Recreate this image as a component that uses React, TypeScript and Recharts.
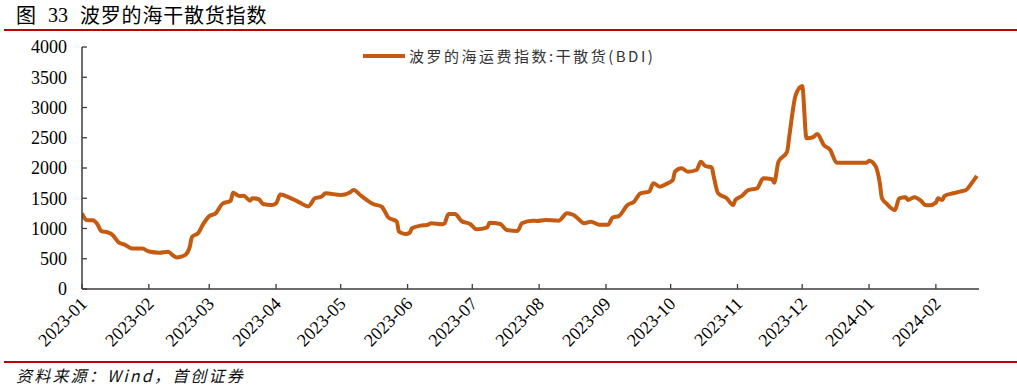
import React from "react";
import { LineChart, Line, XAxis, YAxis } from "recharts";

// BDI daily-ish readings
const dates = [
  "2023-01-01", "2023-01-02", "2023-01-03", "2023-01-06", "2023-01-08", "2023-01-10", "2023-01-13", "2023-01-15",
  "2023-01-18", "2023-01-21", "2023-01-24", "2023-01-29", "2023-02-01", "2023-02-06", "2023-02-10", "2023-02-12",
  "2023-02-14", "2023-02-16", "2023-02-18", "2023-02-20", "2023-02-21", "2023-02-24", "2023-02-26", "2023-03-01",
  "2023-03-04", "2023-03-07", "2023-03-11", "2023-03-12", "2023-03-15", "2023-03-17", "2023-03-20", "2023-03-21",
  "2023-03-24", "2023-03-26", "2023-03-30", "2023-04-01", "2023-04-03", "2023-04-07", "2023-04-12", "2023-04-16",
  "2023-04-19", "2023-04-22", "2023-04-24", "2023-05-01", "2023-05-05", "2023-05-07", "2023-05-10", "2023-05-12",
  "2023-05-16", "2023-05-20", "2023-05-23", "2023-05-27", "2023-05-28", "2023-05-31", "2023-06-02", "2023-06-03",
  "2023-06-07", "2023-06-10", "2023-06-12", "2023-06-17", "2023-06-18", "2023-06-20", "2023-06-23", "2023-06-26",
  "2023-06-30", "2023-07-03", "2023-07-08", "2023-07-09", "2023-07-14", "2023-07-17", "2023-07-22", "2023-07-24",
  "2023-07-29", "2023-07-31", "2023-08-04", "2023-08-10", "2023-08-14", "2023-08-17", "2023-08-22", "2023-08-25",
  "2023-08-29", "2023-09-02", "2023-09-04", "2023-09-07", "2023-09-11", "2023-09-14", "2023-09-17", "2023-09-21",
  "2023-09-23", "2023-09-26", "2023-09-29", "2023-10-02", "2023-10-03", "2023-10-06", "2023-10-09", "2023-10-13",
  "2023-10-15", "2023-10-17", "2023-10-20", "2023-10-21", "2023-10-23", "2023-10-27", "2023-10-30", "2023-10-31",
  "2023-11-03", "2023-11-06", "2023-11-10", "2023-11-13", "2023-11-17", "2023-11-18", "2023-11-20", "2023-11-24",
  "2023-11-25", "2023-11-28", "2023-12-01", "2023-12-03", "2023-12-06", "2023-12-08", "2023-12-11", "2023-12-14",
  "2023-12-17", "2023-12-31", "2024-01-01", "2024-01-04", "2024-01-06", "2024-01-07", "2024-01-09", "2024-01-13",
  "2024-01-15", "2024-01-18", "2024-01-19", "2024-01-22", "2024-01-25", "2024-01-27", "2024-01-29", "2024-02-01",
  "2024-02-02", "2024-02-04", "2024-02-05", "2024-02-09", "2024-02-12", "2024-02-15", "2024-02-17", "2024-02-20",
];

const bdi = [
  1250, 1180, 1140, 1135, 1080, 955, 935, 900,
  770, 730, 670, 668, 620, 600, 617, 560,
  520, 535, 565, 700, 860, 930, 1060, 1205,
  1250, 1405, 1460, 1592, 1537, 1540, 1460, 1499,
  1483, 1405, 1389, 1416, 1560, 1516, 1427, 1365,
  1499, 1526, 1582, 1554, 1592, 1636, 1554, 1499,
  1405, 1360, 1185, 1113, 947, 909, 931, 1003,
  1047, 1058, 1086, 1069, 1080, 1240, 1240, 1124,
  1074, 987, 1020, 1096, 1074, 975, 959, 1086,
  1129, 1124, 1140, 1129, 1251, 1223, 1086, 1113,
  1063, 1063, 1179, 1207, 1389, 1443, 1582, 1609,
  1747, 1691, 1736, 1802, 1939, 1995, 1939, 1967,
  2104, 2033, 2011, 1856, 1582, 1499, 1389, 1471,
  1537, 1636, 1664, 1830, 1813, 1757, 2104, 2270,
  2518, 3207, 3356, 2491, 2508, 2562, 2380, 2298,
  2088, 2088, 2121, 2033, 1750, 1499, 1416, 1306,
  1499, 1516, 1471, 1516, 1460, 1389, 1383, 1427,
  1499, 1471, 1537, 1582, 1609, 1636, 1719, 1868,
];

const monthTicks = [
  "2023-01", "2023-02", "2023-03", "2023-04", "2023-05", "2023-06", "2023-07",
  "2023-08", "2023-09", "2023-10", "2023-11", "2023-12", "2024-01", "2024-02",
];
const yTicks = [0, 500, 1000, 1500, 2000, 2500, 3000, 3500, 4000];
const seriesName = "波罗的海运费指数:干散货(BDI)";

const toTime = (s: string) => {
  const [y, m, d] = s.split("-").map(Number);
  return Date.UTC(y, m - 1, d || 1);
};

const data = dates.map((d, i) => ({ t: toTime(d), v: bdi[i] }));
const xStart = toTime("2023-01-01");
const xEnd = toTime("2024-02-21");

const LINE = "#C55A11";
const AXIS = "#3c3c3c";
const RED = "#C00000";
const SERIF = "'Liberation Serif', 'Times New Roman', serif";
const CJK = "'Noto Sans CJK SC', sans-serif";

const fmtMonth = (v: number) => {
  const dt = new Date(v);
  return `${dt.getUTCFullYear()}-${String(dt.getUTCMonth() + 1).padStart(2, "0")}`;
};

function XTick(props: any) {
  const { x, y, payload } = props;
  const lx = x + 6;
  const ly = y + 16;
  return (
    <g>
      <line x1={x} y1={y} x2={x} y2={y - 5} stroke={AXIS} strokeWidth={1.3} />
      <text
        x={lx}
        y={ly}
        transform={`rotate(-45, ${lx}, ${ly})`}
        textAnchor="end"
        fontFamily={SERIF}
        fontSize={18}
        fill="#000"
      >
        {fmtMonth(payload.value)}
      </text>
    </g>
  );
}

function YTick(props: any) {
  const { x, y, payload } = props;
  return (
    <g>
      <line x1={x} y1={y} x2={x + 5} y2={y} stroke={AXIS} strokeWidth={1.3} />
      <text x={x - 15} y={y} dy="0.35em" textAnchor="end" fontFamily={SERIF} fontSize={18} fill="#000">
        {payload.value}
      </text>
    </g>
  );
}

export default function App() {
  return (
    <div
      style={{
        position: "absolute",
        left: 0,
        top: 0,
        width: 1017,
        height: 389,
        background: "#fff",
        overflow: "hidden",
      }}
    >
      {/* title */}
      <div style={{ position: "absolute", left: 16, top: 4, fontSize: 20, lineHeight: "22px", color: "#000", whiteSpace: "nowrap" }}>
        <span style={{ position: "absolute", left: 0, fontFamily: CJK }}>图</span>
        <span style={{ position: "absolute", left: 32, fontFamily: SERIF }}>33</span>
        <span style={{ position: "absolute", left: 64, fontFamily: CJK, letterSpacing: 0.8 }}>波罗的海干散货指数</span>
      </div>
      <div style={{ position: "absolute", left: 4, top: 29, width: 1013, height: 2, background: RED }} />

      {/* legend */}
      <div style={{ position: "absolute", left: 363, top: 47, display: "flex", alignItems: "center", whiteSpace: "nowrap" }}>
        <span style={{ display: "inline-block", width: 42, height: 4, background: LINE, marginRight: 4 }} />
        <span style={{ fontFamily: CJK, fontSize: 15, letterSpacing: 2.5, color: "#333", lineHeight: "18px" }}>
          {seriesName}
        </span>
      </div>

      <div style={{ position: "absolute", left: 0, top: 0 }}>
        <LineChart width={1017} height={389} data={data} margin={{ top: 47, right: 38, bottom: 40, left: 0 }}>
          <XAxis
            dataKey="t"
            type="number"
            height={60}
            domain={[xStart, xEnd]}
            ticks={monthTicks.map(toTime)}
            tick={<XTick />}
            tickLine={false}
            tickSize={0}
            tickMargin={0}
            interval={0}
            axisLine={{ stroke: AXIS, strokeWidth: 1.5 }}
            allowDataOverflow
          />
          <YAxis
            width={82}
            domain={[0, 4000]}
            ticks={yTicks}
            tick={<YTick />}
            tickLine={false}
            tickSize={0}
            tickMargin={0}
            interval={0}
            axisLine={{ stroke: AXIS, strokeWidth: 1.5 }}
          />
          <Line
            dataKey="v"
            name={seriesName}
            type="monotone"
            stroke={LINE}
            strokeWidth={4}
            dot={false}
            strokeLinejoin="round"
            isAnimationActive={false}
          />
        </LineChart>
      </div>

      {/* source */}
      <div style={{ position: "absolute", left: 4, top: 361, width: 1013, height: 2, background: RED }} />
      <div
        style={{
          position: "absolute",
          left: 16,
          top: 365,
          fontFamily: CJK,
          fontStyle: "italic",
          fontSize: 16,
          letterSpacing: 2.2,
          lineHeight: "20px",
          color: "#111",
          whiteSpace: "nowrap",
        }}
      >
        资料来源：Wind，首创证券
      </div>
    </div>
  );
}
